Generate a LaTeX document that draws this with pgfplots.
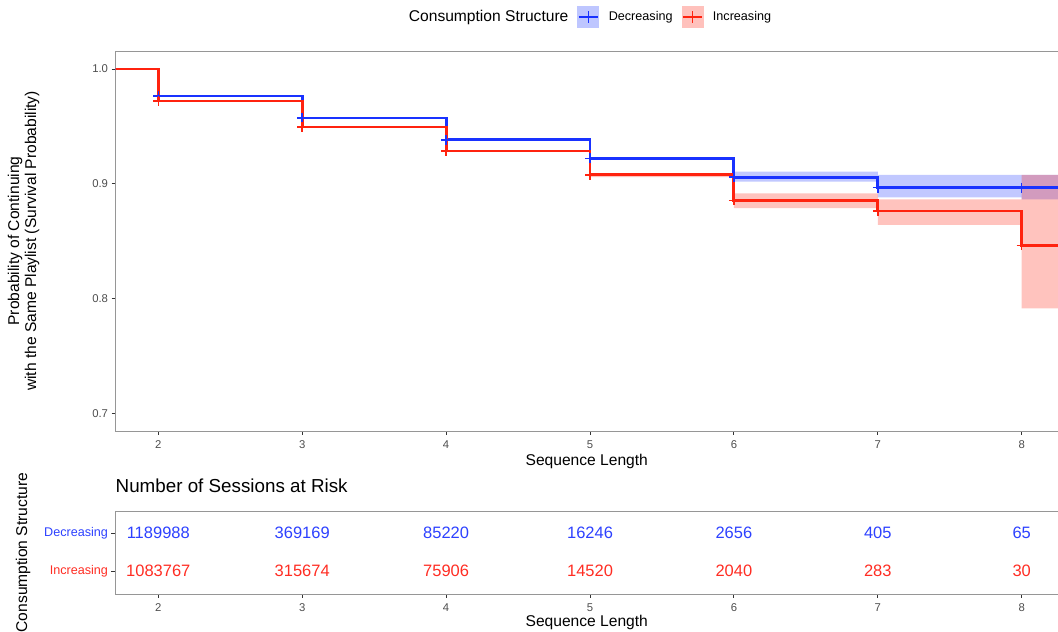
\documentclass[border=0pt]{standalone}
\usepackage{pgfplots}
\pgfplotsset{compat=1.18}
\usepgfplotslibrary{fillbetween}
\usepackage{fontspec}
\setmainfont{Liberation Sans}
\definecolor{bline}{RGB}{25,50,255}
\definecolor{rline}{RGB}{255,35,15}
\definecolor{btext}{RGB}{45,65,255}
\definecolor{rtext}{RGB}{255,45,35}
\definecolor{framec}{RGB}{150,150,150}
\definecolor{tickc}{RGB}{51,51,51}
\definecolor{labc}{RGB}{77,77,77}
\begin{document}
\begin{tikzpicture}
\pgfplotsset{
 common/.style={scale only axis, width=942.5pt, xmin=1.7026, xmax=8.252,
   axis line style={framec, line width=0.8pt},
   tick align=outside, major tick length=4pt, tick style={tickc, line width=0.9pt},
   xtick={2,...,8}, xtick pos=left, ytick pos=left,
   tick label style={labc, font=\fontsize{11.3}{13}\selectfont},
   x tick label style={yshift=-2.5pt},
   /pgf/number format/assume math mode=true,
   label style={font=\fontsize{15.6}{17}\selectfont, black},
   xlabel={Sequence Length},
 }
}
\begin{axis}[common, at={(115.5pt,201pt)}, anchor=south west, height=380pt,
  ymin=0.6846, ymax=1.0157, ytick={0.7,0.8,0.9,1.0},
  y tick label style={/pgf/number format/fixed, /pgf/number format/fixed zerofill, /pgf/number format/precision=1},
  xlabel style={at={(axis description cs:0.5,0)}, anchor=center, yshift=-30pt},
  ylabel={Probability of Continuing\\with the Same Playlist (Survival Probability)},
  ylabel style={at={(axis description cs:-0.0975,0.5)}, anchor=center, align=center},
  legend style={at={(axis description cs:0.4992,1.0895)}, anchor=center, draw=none, fill=none,
    legend columns=-1, font=\fontsize{12.6}{14}\selectfont,
    /tikz/every odd column/.append style={column sep=8pt},
    /tikz/every even column/.append style={column sep=7pt}},
]
\addlegendimage{empty legend}
\addlegendentry[font=\fontsize{15.6}{17}\selectfont]{Consumption Structure}
\addlegendimage{legend image code/.code={\fill[bline!28] (0pt,-10.5pt) rectangle (21pt,10.5pt); \draw[bline, line width=2.2pt] (1pt,0pt)--(20pt,0pt); \draw[bline,line width=1.2pt] (10.5pt,-6pt)--(10.5pt,6pt);}}
\addlegendentry{Decreasing}
\addlegendimage{legend image code/.code={\fill[rline!28] (0pt,-10.5pt) rectangle (21pt,10.5pt); \draw[rline, line width=2.2pt] (1pt,0pt)--(20pt,0pt); \draw[rline,line width=1.2pt] (10.5pt,-6pt)--(10.5pt,6pt);}}
\addlegendentry{Increasing}

% Decreasing: confidence band, line, censor marks
\addplot[const plot, draw=none, name path=bu, forget plot] coordinates {(0,1.0)(2,0.9768)(3,0.9577)(4,0.9388)(5,0.9232)(6,0.9105)(7,0.9077)(8,0.9077)(9,0.9077)};
\addplot[const plot, draw=none, name path=bl, forget plot] coordinates {(0,1.0)(2,0.9762)(3,0.9569)(4,0.9376)(5,0.9212)(6,0.9018)(7,0.8882)(8,0.8865)(9,0.8865)};
\addplot[bline, fill opacity=0.27, draw=none, forget plot] fill between[of=bu and bl];
\addplot[const plot, bline, line width=2.9pt, forget plot] coordinates {(0,1.0)(2,0.9765)(3,0.9573)(4,0.9382)(5,0.9222)(6,0.9057)(7,0.8966)(8,0.8966)(9,0.8966)};
\addplot[only marks, mark=+, mark size=5pt, bline, mark options={line width=1.5pt, draw=bline}, forget plot] coordinates {(2,0.9765)(3,0.9573)(4,0.9382)(5,0.9222)(6,0.9057)(7,0.8966)(8,0.8966)};

% Increasing
\addplot[const plot, draw=none, name path=ru, forget plot] coordinates {(0,1.0)(2,0.9724)(3,0.9500)(4,0.9294)(5,0.9092)(6,0.8917)(7,0.8865)(8,0.9077)(9,0.9077)};
\addplot[const plot, draw=none, name path=rl, forget plot] coordinates {(0,1.0)(2,0.9718)(3,0.9490)(4,0.9278)(5,0.9058)(6,0.8787)(7,0.8641)(8,0.7915)(9,0.7915)};
\addplot[rline, fill opacity=0.27, draw=none, forget plot] fill between[of=ru and rl];
\addplot[const plot, rline, line width=2.9pt, forget plot] coordinates {(0,1.0)(2,0.9721)(3,0.9495)(4,0.9286)(5,0.9077)(6,0.8856)(7,0.8763)(8,0.8464)(9,0.8464)};
\addplot[only marks, mark=+, mark size=5pt, rline, mark options={line width=1.5pt, draw=rline}, forget plot] coordinates {(2,0.9721)(3,0.9495)(4,0.9286)(5,0.9077)(6,0.8856)(7,0.8763)(8,0.8464)};
\end{axis}

\begin{axis}[common, at={(115.5pt,38pt)}, anchor=south west, height=83pt,
  ymin=0.3947, ymax=2.579, ytick={1,2},
  yticklabels={\textcolor{rtext}{Increasing},\textcolor{btext}{Decreasing}},
  y tick label style={font=\fontsize{12.6}{14}\selectfont},
  xlabel style={at={(axis description cs:0.5,0)}, anchor=center, yshift=-28pt},
  ylabel={Consumption Structure},
  ylabel style={at={(axis description cs:-0.0981,0.5)}, anchor=center},
  title={Number of Sessions at Risk},
  title style={at={(axis description cs:0,1)}, anchor=base west, inner sep=0pt, yshift=12.7pt, font=\fontsize{18.8}{21}\selectfont, black},
]
\addplot[only marks, mark=none, nodes near coords, point meta=explicit symbolic,
  nodes near coords style={btext, font=\fontsize{16.5}{18}\selectfont, anchor=center, inner sep=0pt}]
  table[meta=n] {
x y n
2 2 1189988
3 2 369169
4 2 85220
5 2 16246
6 2 2656
7 2 405
8 2 65
};
\addplot[only marks, mark=none, nodes near coords, point meta=explicit symbolic,
  nodes near coords style={rtext, font=\fontsize{16.5}{18}\selectfont, anchor=center, inner sep=0pt}]
  table[meta=n] {
x y n
2 1 1083767
3 1 315674
4 1 75906
5 1 14520
6 1 2040
7 1 283
8 1 30
};
\end{axis}
\pgfresetboundingbox
\useasboundingbox (0,0) rectangle (1058pt,632pt);
\end{tikzpicture}
\end{document}
